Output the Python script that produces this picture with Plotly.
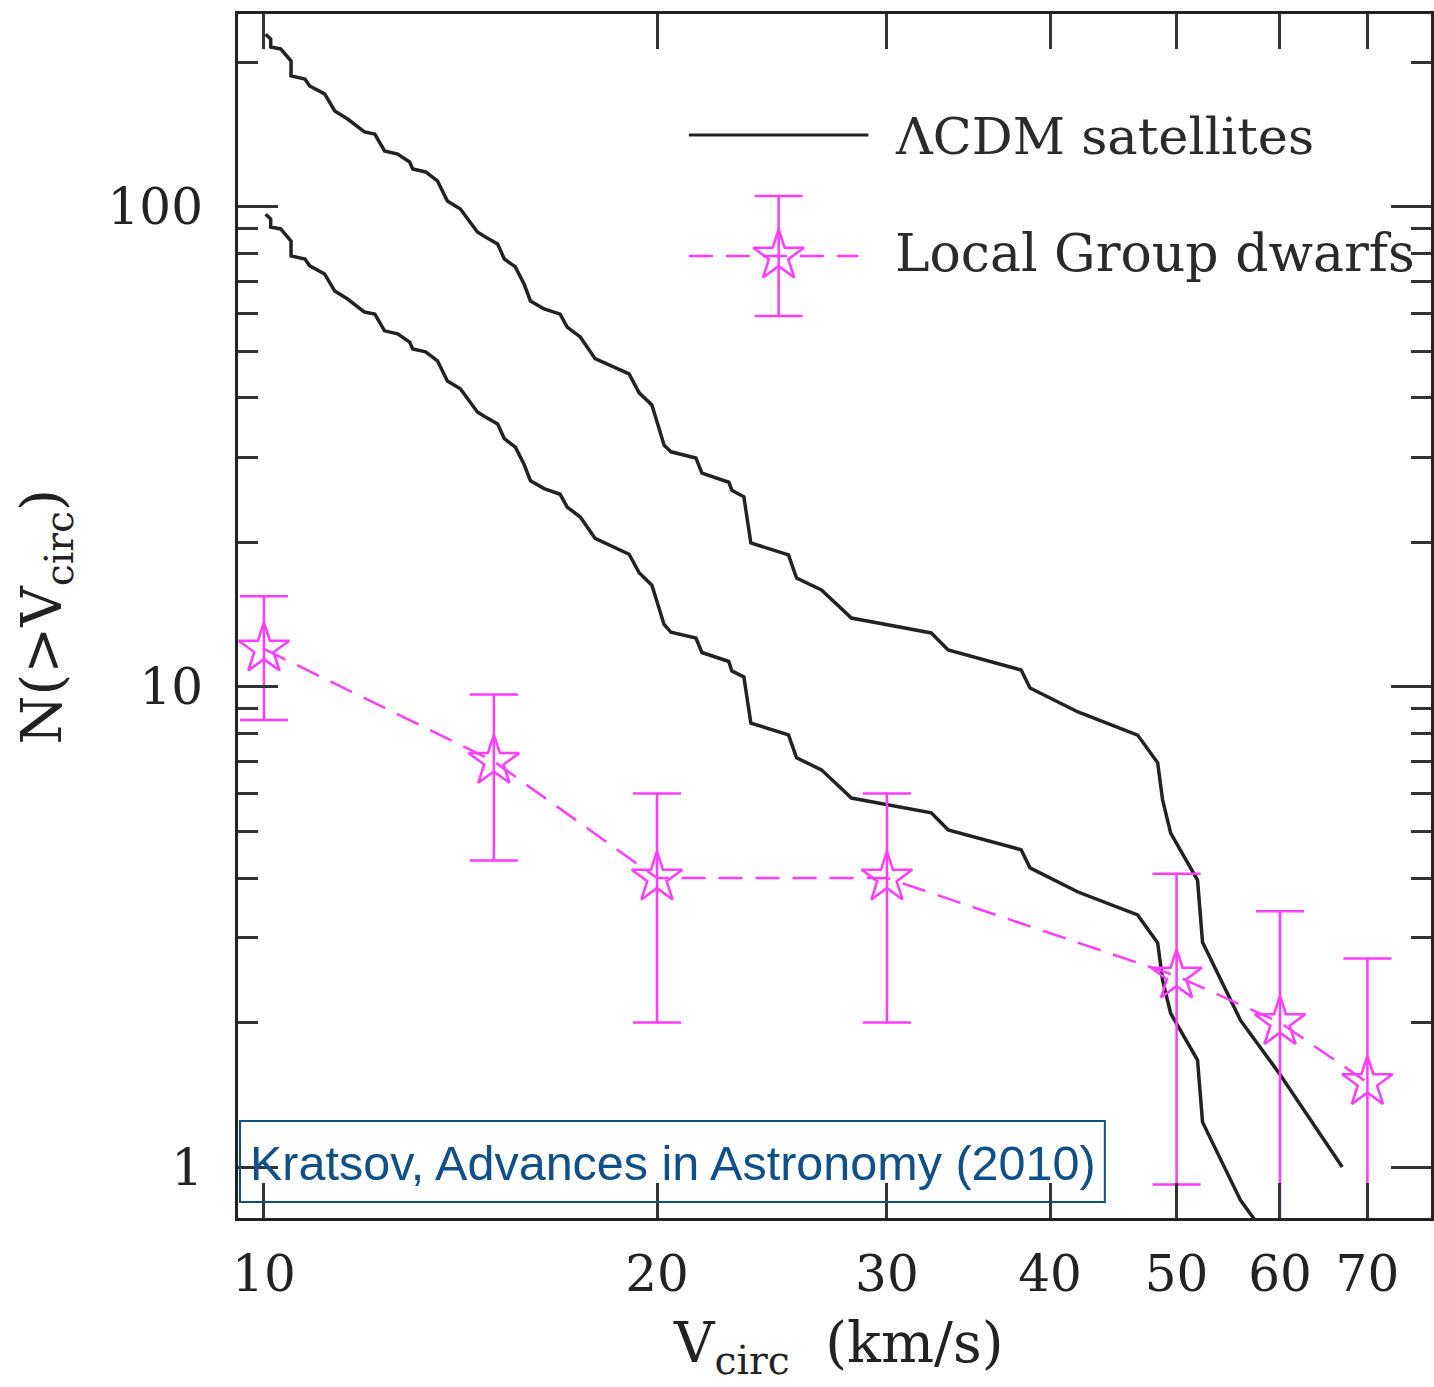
import plotly.graph_objects as go

# ---------------- data ----------------
v_upper = [10.03, 10.12, 10.12, 10.30, 10.49, 10.49, 10.75, 10.84, 11.13, 11.33, 11.59, 11.94,
           12.16, 12.37, 12.66, 12.93, 13.00, 13.30, 13.58, 13.82, 14.14, 14.57, 14.78, 15.10,
           15.28, 15.58, 15.82, 16.00, 16.39, 16.86, 17.07, 17.47, 17.93, 18.54, 19.04, 19.38,
           19.82, 20.07, 20.25, 20.50, 21.42, 21.65, 22.70, 22.82, 23.31, 23.60, 25.22, 25.58,
           26.73, 28.18, 32.44, 33.42, 38.01, 38.61, 42.02, 46.68, 48.36, 48.78, 49.48, 51.88,
           52.34, 55.97, 60.04, 66.96]
n_upper = [229, 223.9, 215.4, 213.4, 201.4, 187.5, 184.8, 178.7, 172.0, 158.5, 152.5, 143.3,
           141.9, 130.8, 128.9, 124.1, 120.0, 118.3, 113.3, 102.9, 99.0, 88.7, 86.6, 83.7,
           77.9, 75.0, 69.1, 63.7, 61.3, 59.8, 56.2, 53.6, 48.3, 46.4, 44.9, 41.0,
           38.7, 34.6, 31.9, 30.9, 30.0, 27.9, 26.7, 25.7, 24.9, 19.95, 18.84, 16.87,
           15.93, 13.92, 12.96, 11.94, 10.85, 9.95, 8.87, 7.94, 6.95, 5.82, 4.96, 3.96,
           2.94, 2.02, 1.555, 1.0]

v_lower = [10.03, 10.12, 10.12, 10.30, 10.49, 10.49, 10.75, 10.84, 11.13, 11.33, 11.59, 11.94,
           12.16, 12.37, 12.66, 12.93, 13.00, 13.30, 13.58, 13.82, 14.14, 14.57, 14.78, 15.10,
           15.28, 15.58, 15.82, 16.00, 16.39, 16.86, 17.07, 17.47, 17.93, 18.54, 19.04, 19.38,
           19.82, 20.07, 20.25, 20.50, 21.42, 21.65, 22.70, 22.82, 23.31, 23.60, 25.22, 25.58,
           26.73, 28.18, 32.44, 33.42, 38.01, 38.61, 42.02, 46.68, 48.36, 48.78, 49.48, 51.88,
           52.34, 55.97, 60.04, 66.96]
n_lower = [96.6, 94.4, 90.8, 90.0, 84.9, 79.1, 77.9, 75.4, 72.5, 66.8, 64.3, 60.4,
           59.8, 55.2, 54.4, 52.3, 50.6, 49.9, 47.8, 43.4, 41.8, 37.4, 36.5, 35.3,
           32.9, 31.6, 29.1, 26.9, 25.9, 25.2, 23.7, 22.6, 20.4, 19.6, 18.9, 17.3,
           16.3, 14.6, 13.5, 13.0, 12.65, 11.8, 11.3, 10.8, 10.5, 8.41, 7.95, 7.12,
           6.72, 5.87, 5.47, 5.04, 4.58, 4.20, 3.74, 3.35, 2.93, 2.45, 2.09, 1.67,
           1.24, 0.852, 0.656, 0.416]

v_dwarfs = [10, 15, 20, 30, 50, 60, 70]
n_dwarfs = [12, 7, 4, 4, 2.5, 2, 1.5]
err_dwarfs = [3.46, 2.65, 2.0, 2.0, 1.58, 1.41, 1.22]

x_tick_vals = [10, 20, 30, 40, 50, 60, 70]
x_tick_text = ["10", "20", "30", "40", "50", "60", "70"]
y_tick_vals = [1, 10, 100]
y_tick_text = ["1", "10", "100"]
y_minor_vals = [2, 3, 4, 5, 6, 7, 8, 9, 20, 30, 40, 50, 60, 70, 80, 90, 200]

legend_labels = ["\u039bCDM\u00a0satellites", "Local\u00a0Group\u00a0dwarfs"]
credit_text = "Kratsov, Advances in Astronomy (2010)"

# ---------------- styles / layout ----------------
W, H = 1434, 1387
L, R, T, B = 238, 0, 14, 169
PW, PH = W - L - R, H - T - B

def px(xp):
    return (xp - L) / PW

def py(yp):
    return (H - B - yp) / PH

BLACK = "#222222"
MAG = "#ff3cff"
SERIF = "DejaVu Serif"
DASH = "24px,13px"

fig = go.Figure()

for vx, ny in [(v_upper, n_upper), (v_lower, n_lower)]:
    fig.add_trace(go.Scatter(x=vx, y=ny, mode="lines",
                             line=dict(color=BLACK, width=3.5), showlegend=False))

fig.add_trace(go.Scatter(
    x=v_dwarfs, y=n_dwarfs, mode="lines+markers",
    line=dict(color=MAG, width=2.5, dash=DASH),
    marker=dict(symbol="star-open", size=38, color=MAG, line=dict(width=2.5, color=MAG)),
    error_y=dict(type="data", array=err_dwarfs, arrayminus=err_dwarfs,
                 color=MAG, thickness=2.5, width=24),
    showlegend=False))

# legend key for the dwarfs (star + error bar), placed on a hidden 0..1 overlay axis
fig.add_trace(go.Scatter(
    x=[px(780)], y=[py(256)], mode="markers", xaxis="x2", yaxis="y2",
    marker=dict(symbol="star-open", size=38, color=MAG, line=dict(width=2.5, color=MAG)),
    error_y=dict(type="data", array=[py(256) - py(196)], arrayminus=[py(316) - py(256)],
                 color=MAG, thickness=2.5, width=24),
    showlegend=False))

axis_common = dict(showgrid=False, zeroline=False, showline=True, linecolor=BLACK,
                   linewidth=3, mirror="ticks", ticks="inside", tickcolor="#333333")

fig.update_layout(
    width=W, height=H, autosize=False,
    margin=dict(l=L, r=R, t=T, b=B, pad=0),
    paper_bgcolor="white", plot_bgcolor="white",
    font=dict(family=SERIF, color=BLACK),
    xaxis=dict(type="log", range=[0.98014, 1.8938], tickvals=x_tick_vals, ticktext=x_tick_text,
               ticklen=35, tickwidth=2.5, tickfont=dict(family=SERIF, size=50, color=BLACK),
               ticklabelstandoff=10, **axis_common),
    yaxis=dict(type="log", range=[-0.10625, 2.402], tickvals=y_tick_vals, ticktext=y_tick_text,
               ticklen=40, tickwidth=2.5, tickfont=dict(family=SERIF, size=50, color=BLACK),
               ticklabelstandoff=22,
               minor=dict(tickvals=y_minor_vals, ticks="inside", ticklen=20, tickwidth=2.5,
                          tickcolor="#333333", showgrid=False),
               **axis_common),
    xaxis2=dict(range=[0, 1], overlaying="x", anchor="y2", visible=False),
    yaxis2=dict(range=[0, 1], overlaying="y", anchor="x2", visible=False),
)

shapes = [
    # legend line for ΛCDM
    dict(type="line", xref="paper", yref="paper", x0=px(690), x1=px(870), y0=py(135), y1=py(135),
         line=dict(color=BLACK, width=3)),
    # dashed legend line for dwarfs
    dict(type="line", xref="paper", yref="paper", x0=px(690), x1=px(860), y0=py(256), y1=py(256),
         line=dict(color=MAG, width=2.5, dash=DASH)),
    # credit box
    dict(type="rect", xref="paper", yref="paper", x0=px(240), x1=px(1107), y0=py(1202), y1=py(1121),
         line=dict(color="#0e4f80", width=2), fillcolor="rgba(0,0,0,0)"),
]
fig.update_layout(shapes=shapes)

annotations = [
    dict(text=legend_labels[0], xref="paper", yref="paper", x=px(895), y=py(137),
         xanchor="left", yanchor="middle", showarrow=False,
         font=dict(family=SERIF, size=51, color="#2a2a2a")),
    dict(text=legend_labels[1], xref="paper", yref="paper", x=px(895), y=py(253),
         xanchor="left", yanchor="middle", showarrow=False,
         font=dict(family=SERIF, size=52, color="#2a2a2a")),
    dict(text=credit_text, xref="paper", yref="paper", x=px(674), y=py(1163),
         xanchor="center", yanchor="middle", showarrow=False,
         font=dict(family="Liberation Sans", size=48.5, color="#0f5089")),
    # axis titles
    dict(text="V<sub>circ</sub>\u00a0\u00a0(km/s)", xref="paper", yref="paper", x=px(840), y=py(1346),
         xanchor="center", yanchor="middle", showarrow=False,
         font=dict(family=SERIF, size=56, color=BLACK)),
    dict(text="N(>V<sub>circ</sub>)", xref="paper", yref="paper", x=px(45), y=py(617),
         xanchor="center", yanchor="middle", showarrow=False, textangle=-90,
         font=dict(family=SERIF, size=56, color=BLACK)),
]
fig.update_layout(annotations=annotations)

fig.write_html("out.html")
